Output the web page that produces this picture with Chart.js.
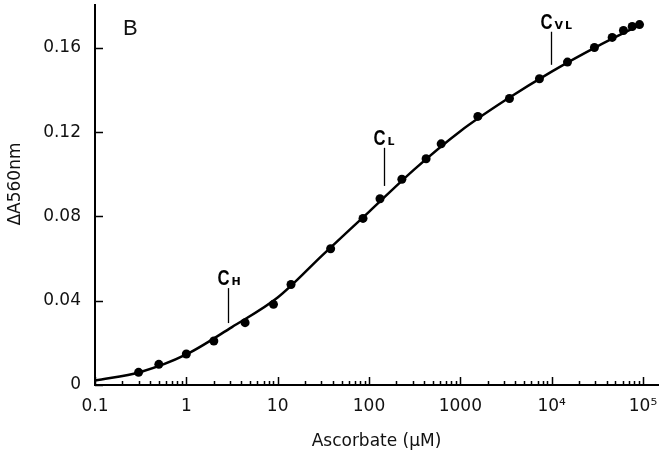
<!DOCTYPE html>
<html>
<head>
<meta charset="utf-8">
<script src="https://cdn.jsdelivr.net/npm/chart.js@4.4.1/dist/chart.umd.min.js"></script>
<style>
  html, body { margin: 0; padding: 0; background: #fff; }
</style>
</head>
<body>
<canvas id="chart" width="664" height="455"></canvas>
<script>
// Measured points (ascorbate in µM, ΔA560nm)
const ascorbate = [0.3, 0.5, 1, 2, 4.4, 9, 14, 38, 86, 132, 229, 422, 617, 1556, 3450, 7350, 14900, 29400, 46000, 61100, 76200, 91600];
const deltaA = [0.006, 0.0098, 0.0147, 0.0209, 0.0296, 0.0383, 0.0477, 0.0647, 0.0791, 0.0884, 0.0977, 0.1074, 0.1145, 0.1275, 0.136, 0.1454, 0.1533, 0.1602, 0.165, 0.1683, 0.1702, 0.1711];

// Fitted curve at half-decade steps
const fitAscorbate = [0.1, 0.316, 1, 3.16, 10, 31.6, 100, 316, 1000, 3162, 10000, 31623, 95000];
const fitDeltaA = [0.0021, 0.0062, 0.0145, 0.0275, 0.0415, 0.062, 0.0822, 0.1025, 0.1205, 0.1354, 0.1488, 0.1608, 0.1712];

// Axis ticks
const xDecades = [0.1, 1, 10, 100, 1000, 1e4, 1e5];
const xTickLabels = ['0.1', '1', '10', '100', '1000', '10⁴', '10⁵'];
const yTicks = [0, 0.04, 0.08, 0.12, 0.16];
const yTickLabels = ['0', '0.04', '0.08', '0.12', '0.16'];

// Binding-site markers C_H, C_L, C_VL
const siteNames = ['H', 'L', 'VL'];
const siteAscorbate = [2.85, 145, 9800];
const siteLineTop = [0.046, 0.1126, 0.1677];
const siteLineBottom = [0.0294, 0.0945, 0.152];

Chart.defaults.font.family = "'DejaVu Sans', sans-serif";
Chart.defaults.color = '#111';

// inward tick marks, marker labels, axis titles and panel letter
const decorations = {
    id: 'decorations',
    afterDraw(chart) {
        const { ctx, chartArea, scales: { x, y } } = chart;
        ctx.save();
        ctx.strokeStyle = '#000';
        ctx.lineWidth = 1.5;
        ctx.beginPath();
        for (let d = -1; d <= 5; d++) {
            for (let m = 1; m <= 9; m++) {
                const v = m * Math.pow(10, d);
                if (v < x.min * 0.999 || v > x.max) continue;
                const px = Math.round(x.getPixelForValue(v)) + 0.5;
                const len = m === 1 ? 8 : 4;
                ctx.moveTo(px, chartArea.bottom);
                ctx.lineTo(px, chartArea.bottom - len);
            }
        }
        yTicks.forEach(v => {
            const py = Math.round(y.getPixelForValue(v)) + 0.5;
            ctx.moveTo(chartArea.left, py);
            ctx.lineTo(chartArea.left + 8, py);
        });
        ctx.stroke();

        // site markers
        siteNames.forEach((name, i) => {
            const px = Math.round(x.getPixelForValue(siteAscorbate[i])) + 0.5;
            const top = y.getPixelForValue(siteLineTop[i]);
            const bottom = y.getPixelForValue(siteLineBottom[i]);
            ctx.beginPath();
            ctx.lineWidth = 1.3;
            ctx.moveTo(px, top);
            ctx.lineTo(px, bottom);
            ctx.stroke();
            ctx.fillStyle = '#000';
            ctx.textBaseline = 'alphabetic';
            // narrow heavy "C"
            ctx.save();
            ctx.translate(px + 1, top - 3);
            ctx.scale(0.76, 1);
            ctx.textAlign = 'right';
            ctx.font = "bold 22px 'Liberation Sans', sans-serif";
            ctx.fillText('C', 0, 0);
            ctx.restore();
            ctx.textAlign = 'left';
            ctx.font = "bold 11px 'DejaVu Sans', sans-serif";
            ctx.letterSpacing = '2px';
            ctx.fillText(name, px + 3, top - 3);
            ctx.letterSpacing = '0px';
        });

        // panel letter
        ctx.fillStyle = '#111';
        ctx.font = "22px 'Liberation Sans', sans-serif";
        ctx.textAlign = 'left';
        ctx.textBaseline = 'alphabetic';
        ctx.fillText('B', 123, 35);

        // axis titles
        ctx.font = "17px 'DejaVu Sans', sans-serif";
        ctx.textAlign = 'center';
        ctx.textBaseline = 'middle';
        ctx.fillText('Ascorbate (µM)', (chartArea.left + chartArea.right) / 2, 442);
        ctx.translate(15.5, 184);
        ctx.rotate(-Math.PI / 2);
        ctx.fillText('ΔA560nm', 0, 0);
        ctx.restore();
    }
};

new Chart(document.getElementById('chart'), {
    type: 'scatter',
    data: {
        datasets: [
            {
                label: 'fit',
                data: fitAscorbate.map((v, i) => ({ x: v, y: fitDeltaA[i] })),
                showLine: true,
                borderColor: '#000',
                borderWidth: 2.5,
                pointRadius: 0,
                cubicInterpolationMode: 'monotone',
                fill: false
            },
            {
                label: 'measured',
                data: ascorbate.map((v, i) => ({ x: v, y: deltaA[i] })),
                pointRadius: 4.5,
                backgroundColor: '#000',
                borderWidth: 0
            }
        ]
    },
    options: {
        responsive: false,
        animation: false,
        layout: { padding: { top: 5, right: 6, left: 0, bottom: 0 } },
        plugins: { legend: { display: false }, tooltip: { enabled: false } },
        scales: {
            x: {
                type: 'logarithmic',
                min: 0.1,
                max: 146000,
                afterBuildTicks: s => { s.ticks = xDecades.map(v => ({ value: v })); },
                afterFit: s => { s.height = 70; s.paddingLeft = 0; s.paddingRight = 0; },
                ticks: {
                    callback: (v, i) => xTickLabels[i],
                    autoSkip: false,
                    maxRotation: 0,
                    padding: 11,
                    font: { size: 17 }
                },
                grid: { display: false, drawTicks: false },
                border: { color: '#000', width: 2 }
            },
            y: {
                type: 'linear',
                min: 0,
                max: 0.1804,
                afterBuildTicks: s => { s.ticks = yTicks.map(v => ({ value: v })); },
                afterFit: s => { s.width = 95; s.paddingTop = 0; s.paddingBottom = 0; },
                ticks: {
                    callback: (v, i) => yTickLabels[i],
                    padding: 14,
                    font: { size: 17 }
                },
                grid: { display: false, drawTicks: false },
                border: { color: '#000', width: 2 }
            }
        }
    },
    plugins: [decorations]
});
</script>
</body>
</html>
